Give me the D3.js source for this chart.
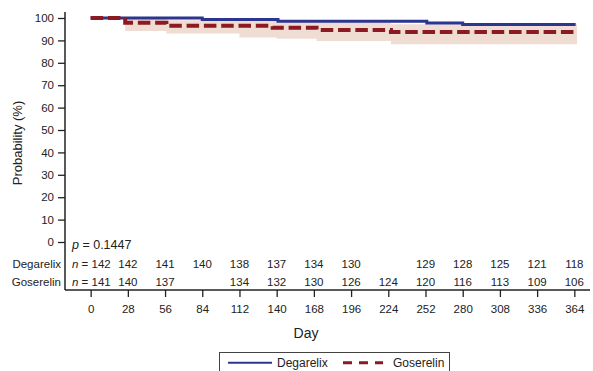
<!DOCTYPE html>
<html>
<head>
<meta charset="utf-8">
<script src="https://cdn.jsdelivr.net/npm/d3@7"></script>
<style>
  body { margin: 0; background: #fff; }
  svg { display: block; font-family: "Liberation Sans", Arial, sans-serif; }
  text { fill: #222; }
</style>
</head>
<body>
<div id="chart"></div>
<script>
// Data
const dayTicks = [0, 28, 56, 84, 112, 140, 168, 196, 224, 252, 280, 308, 336, 364];
const yTicks = [0, 10, 20, 30, 40, 50, 60, 70, 80, 90, 100];

const degarelixAtRisk = [142, 142, 141, 140, 138, 137, 134, 130, null, 129, 128, 125, 121, 118];
const goserelinAtRisk = [141, 140, 137, null, 134, 132, 130, 126, 124, 120, 116, 113, 109, 106];

// Kaplan-Meier steps [day, probability %]
const degarelixCurve = [[0, 100], [84, 99.3], [141, 98.6], [253, 97.8], [280, 97.1], [365, 97.1]];
const goserelinCurve = [[0, 100], [26, 97.9], [57, 96.5], [137, 95.7], [170, 94.6], [226, 93.7], [366, 93.7]];
// Goserelin confidence band [day, lower, upper]
const goserelinBand = [[26, 94.2, 99.6], [57, 93.1, 99.0], [112, 91.3, 99.0], [140, 90.7, 98.6],
                       [170, 89.7, 98.1], [226, 88.3, 97.2], [366, 88.3, 97.2]];

const pValue = '0.1447';

const W = 593, H = 371;
const svg = d3.select('#chart').append('svg')
    .attr('width', W)
    .attr('height', H);

const x = d3.scaleLinear().domain([-19.3, 375.8]).range([65, 590]);
const y = d3.scaleLinear().domain([0, 100]).range([242, 18]);

const blue = '#2c3590';
const red = '#8c1a22';

// Confidence band
const area = d3.area()
    .curve(d3.curveStepAfter)
    .x(d => x(d[0]))
    .y0(d => y(d[1]))
    .y1(d => y(d[2]));

svg.append('path')
    .datum(goserelinBand)
    .attr('d', area)
    .attr('fill', '#efdcd3');

const line = d3.line()
    .curve(d3.curveStepAfter)
    .x(d => x(d[0]))
    .y(d => y(d[1]));

svg.append('path')
    .datum(degarelixCurve)
    .attr('d', line)
    .attr('fill', 'none')
    .attr('stroke', blue)
    .attr('stroke-width', 3);

svg.append('path')
    .datum(goserelinCurve)
    .attr('d', line)
    .attr('fill', 'none')
    .attr('stroke', red)
    .attr('stroke-width', 4)
    .attr('stroke-dasharray', '12.5,4.8');

// Y axis
const yAxis = svg.append('g')
    .attr('transform', 'translate(65,0)')
    .call(d3.axisLeft(y).tickValues(yTicks).tickSize(7).tickSizeOuter(0).tickPadding(4));
yAxis.select('.domain').remove();
yAxis.selectAll('line').attr('stroke', '#222').attr('stroke-width', 1.3);
yAxis.selectAll('text').style('font-size', '11.5px').attr('fill', '#222');

svg.append('line')
    .attr('x1', 65).attr('x2', 65)
    .attr('y1', 12).attr('y2', 290)
    .attr('stroke', '#222').attr('stroke-width', 1.5);

// X axis
const xAxis = svg.append('g')
    .attr('transform', 'translate(0,290)')
    .call(d3.axisBottom(x).tickValues(dayTicks).tickSize(7).tickSizeOuter(0).tickPadding(8));
xAxis.select('.domain').remove();
xAxis.selectAll('line').attr('stroke', '#222').attr('stroke-width', 1.3);
xAxis.selectAll('text').style('font-size', '11.5px').attr('fill', '#222');

svg.append('line')
    .attr('x1', 65).attr('x2', 590)
    .attr('y1', 290).attr('y2', 290)
    .attr('stroke', '#222').attr('stroke-width', 1.5);

// Axis titles
svg.append('text')
    .attr('transform', 'translate(22,143) rotate(-90)')
    .attr('text-anchor', 'middle')
    .style('font-size', '13px')
    .text('Probability (%)');

svg.append('text')
    .attr('x', 306)
    .attr('y', 338)
    .attr('text-anchor', 'middle')
    .style('font-size', '14px')
    .text('Day');

// p value
const pText = svg.append('text')
    .attr('x', 72)
    .attr('y', 249)
    .style('font-size', '12.5px');
pText.append('tspan').style('font-style', 'italic').text('p');
pText.append('tspan').text(' = ' + pValue);

// Number at risk table
[['Degarelix', degarelixAtRisk, 268], ['Goserelin', goserelinAtRisk, 286]].forEach(row => {
    svg.append('text')
        .attr('x', 61)
        .attr('y', row[2])
        .attr('text-anchor', 'end')
        .style('font-size', '11.5px')
        .text(row[0]);

    row[1].forEach((n, i) => {
        if (n === null) return;
        if (i === 0) {
            const t = svg.append('text')
                .attr('x', 72)
                .attr('y', row[2])
                .style('font-size', '11.5px');
            t.append('tspan').style('font-style', 'italic').text('n');
            t.append('tspan').text(' = ' + n);
        } else {
            svg.append('text')
                .attr('x', x(dayTicks[i]))
                .attr('y', row[2])
                .attr('text-anchor', 'middle')
                .style('font-size', '11.5px')
                .text(n);
        }
    });
});

// Legend
const legend = svg.append('g');
legend.append('rect')
    .attr('x', 219.5).attr('y', 352.5)
    .attr('width', 230).attr('height', 30)
    .attr('fill', '#fff')
    .attr('stroke', '#444')
    .attr('stroke-width', 1);

[['Degarelix', blue, 228, 272, 277, null, 2], ['Goserelin', red, 343, 383, 393, '9,7', 3]].forEach(item => {
    legend.append('line')
        .attr('x1', item[2]).attr('x2', item[3])
        .attr('y1', 362.7).attr('y2', 362.7)
        .attr('stroke', item[1])
        .attr('stroke-width', item[6])
        .attr('stroke-dasharray', item[5]);
    legend.append('text')
        .attr('x', item[4])
        .attr('y', 367)
        .style('font-size', '12px')
        .text(item[0]);
});
</script>
</body>
</html>
